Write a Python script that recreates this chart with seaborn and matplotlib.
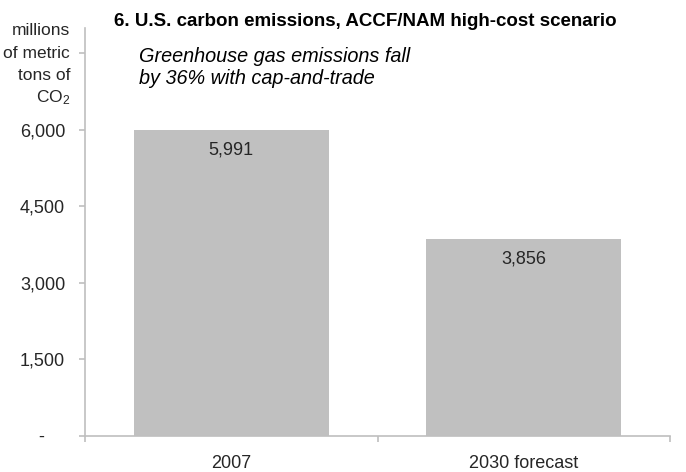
import pandas as pd
import matplotlib
matplotlib.use("Agg")
import matplotlib.pyplot as plt
import seaborn as sns

sns.set_style("white")
plt.rcParams['font.family'] = ['Liberation Sans', 'DejaVu Sans']
plt.rcParams['mathtext.fontset'] = 'custom'
plt.rcParams['mathtext.rm'] = 'Liberation Sans'
plt.rcParams['mathtext.it'] = 'Liberation Sans:italic'

# data
categories = ['2007', '2030 forecast']
emissions = [5991, 3856]
value_labels = ['5,991', '3,856']
ytick_values = [0, 1500, 3000, 4500, 6000, 7500]
ytick_labels = ['-    ', '1,500', '3,000', '4,500', '6,000', '']

df = pd.DataFrame({'year': categories, 'emissions': emissions})

axis_grey = '#bfbfbf'
text_grey = '#262626'

fig = plt.figure(figsize=(6.86, 4.72), dpi=100)
ax = fig.add_axes([0.1239, 0.0763, 0.9767 - 0.1239, 0.9407 - 0.0763])

sns.barplot(data=df, x='year', y='emissions', color='#c0c0c0', saturation=1,
            width=0.667, edgecolor='none', ax=ax)

ax.set_xlim(-0.5, 1.5)
ax.set_ylim(0, 8000)
ax.set_xlabel('')
ax.set_ylabel('')

# value labels inside the bars
for i, v in enumerate(emissions):
    ax.annotate(value_labels[i], (i, v), xytext=(0, -14), textcoords='offset points',
                ha='center', va='center', fontsize=13, color=text_grey)

for s in ['top', 'right']:
    ax.spines[s].set_visible(False)
for s in ['left', 'bottom']:
    ax.spines[s].set_color(axis_grey)
    ax.spines[s].set_linewidth(1.2)

ax.set_yticks(ytick_values)
ax.set_yticklabels(ytick_labels)
ax.tick_params(axis='y', direction='out', length=4.3, width=1.2, color=axis_grey,
               labelsize=13, labelcolor=text_grey, pad=10, left=True)

# x ticks: labels at bar centres, tick marks at category boundaries
ax.set_xticks([0, 1])
ax.set_xticklabels(categories)
ax.set_xticks([-0.5, 0.5, 1.5], minor=True)
ax.tick_params(axis='x', which='major', length=0, labelsize=13, labelcolor=text_grey, pad=14)
ax.tick_params(axis='x', which='minor', direction='out', length=4.3, width=1.2,
               color=axis_grey, bottom=True)

# title and subtitle
fig.text(114 / 686, 1 - 26 / 472, '6. U.S. carbon emissions, ACCF/NAM high-cost scenario',
         fontweight='bold', fontsize=13.5, color='black', va='baseline', ha='left')
fig.text(139 / 686, 1 - 62 / 472, 'Greenhouse gas emissions fall', fontstyle='italic',
         fontsize=14.3, color='black', va='baseline', ha='left')
fig.text(139 / 686, 1 - 84 / 472, 'by 36% with cap-and-trade', fontstyle='italic',
         fontsize=14.3, color='black', va='baseline', ha='left')

# unit label at top left
unit_lines = ['millions', 'of metric', 'tons of', 'CO$_2$']
unit_baselines = [35, 58, 80, 102]
for line, b in zip(unit_lines, unit_baselines):
    fig.text(70 / 686, 1 - b / 472, line, fontsize=12.5, color=text_grey,
             ha='right', va='baseline')

fig.savefig('out.png', dpi=100)
